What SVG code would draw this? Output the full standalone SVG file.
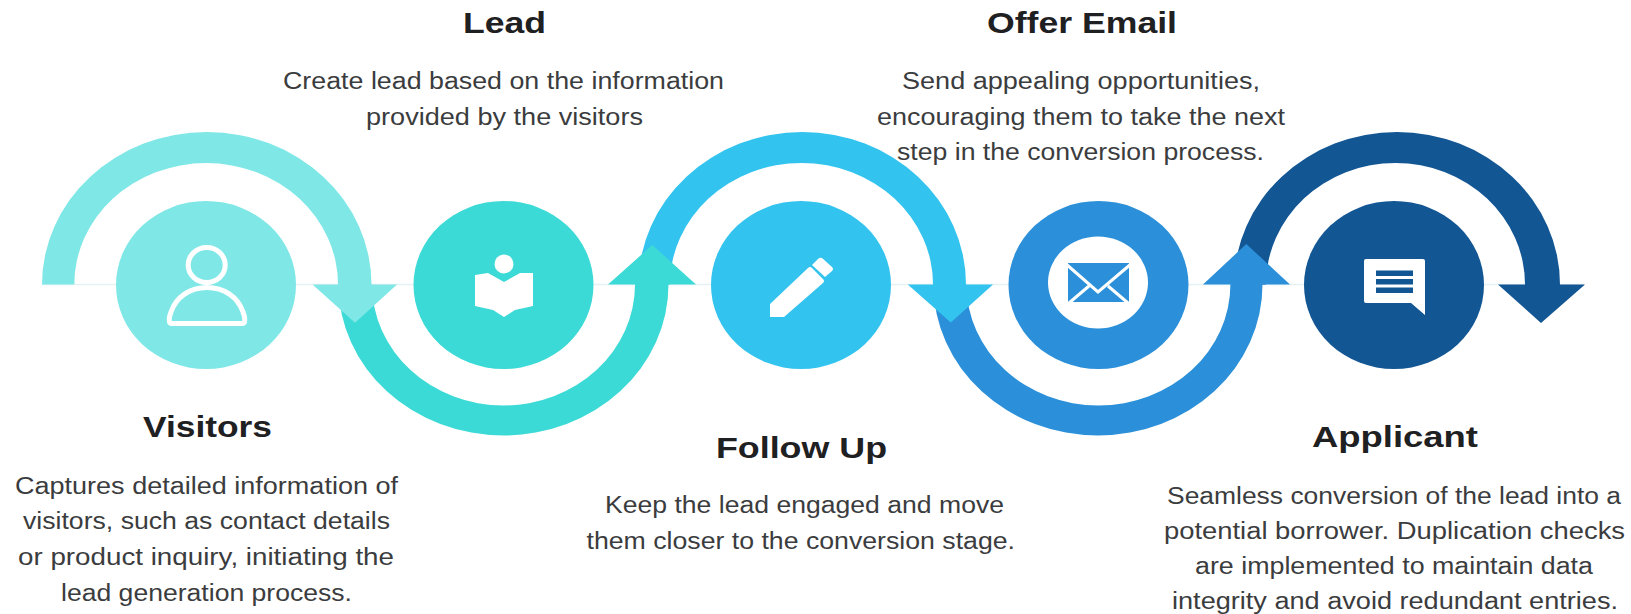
<svg xmlns="http://www.w3.org/2000/svg" width="1631" height="614" viewBox="0 0 1631 614">
<style>
.h{font-family:"Liberation Sans",Arial,sans-serif;font-weight:700;font-size:30px;fill:#1f2022}
.b{font-family:"Liberation Sans",Arial,sans-serif;font-size:23px;fill:#3b3c3e}
.w{fill:#fff}
.c1{fill:#80e7e7}.c2{fill:#3cdad6}.c3{fill:#33c3ef}.c4{fill:#2b90d9}.c5{fill:#135694}
</style>
<rect width="1631" height="614" fill="#fff"/>
<g id="connectors">
<path d="M42 284.500H1584" stroke="#e6f1f2" stroke-width="1.500" fill="none"/>
<path class="c5" d="M1234 284.500A163 152.500 0 0 1 1560 284.500H1585L1541 323L1498 284.500H1525A129.500 121.500 0 0 0 1266 284.500Z"/>
<path class="c4" d="M933.500 284.500A164.500 151 0 0 0 1262.500 284.500H1290L1246.300 244L1203 284.500H1230.400A132 121 0 0 1 966.400 284.500Z"/>
<path class="c3" d="M638.500 284.500A163.750 152.500 0 0 1 966 284.500H993L950.800 322.500L907.800 284.500H933A131.500 121.500 0 0 0 670 284.500Z"/>
<path class="c2" d="M338.500 284.500A165 151 0 0 0 668.500 284.500H696L652.300 245L608 284.500H635A131.500 121 0 0 1 372 284.500Z"/>
<path class="c1" d="M42 284.500A164.750 152.500 0 0 1 371.500 284.500H397L355 322.700L312.500 284.500H338A131.850 121.500 0 0 0 74.300 284.500Z"/>
</g>
<g id="visitors">
<ellipse class="c1" cx="206" cy="285" rx="90" ry="84"/>
<ellipse cx="206.700" cy="265" rx="18.500" ry="17.500" fill="none" stroke="#fff" stroke-width="5"/>
<path d="M172 323.500C168 323.500 169 317 171 312C176 297 190 287.500 207 287.500C224 287.500 238 297 243 312C245 317 246 323.500 242 323.500Z" fill="none" stroke="#fff" stroke-width="5" stroke-linejoin="round"/>
<text class="h" x="143" y="437" textLength="129" lengthAdjust="spacingAndGlyphs">Visitors</text>
<text class="b" x="15" y="493.500" textLength="383" lengthAdjust="spacingAndGlyphs">Captures detailed information of</text>
<text class="b" x="23" y="529" textLength="367" lengthAdjust="spacingAndGlyphs">visitors, such as contact details</text>
<text class="b" x="18" y="564.500" textLength="376" lengthAdjust="spacingAndGlyphs">or product inquiry, initiating the</text>
<text class="b" x="61" y="600.500" textLength="291" lengthAdjust="spacingAndGlyphs">lead generation process.</text>
</g>
<g id="lead">
<ellipse class="c2" cx="503.500" cy="285" rx="90" ry="84"/>
<circle class="w" cx="504" cy="264" r="9.500"/>
<path class="w" d="M475 275L488 273L504 282L520 273L533 273V306L515 310L504 317L493 310L475 306Z"/>
<text class="h" x="463" y="33" textLength="83" lengthAdjust="spacingAndGlyphs">Lead</text>
<text class="b" x="283" y="88.500" textLength="441" lengthAdjust="spacingAndGlyphs">Create lead based on the information</text>
<text class="b" x="366" y="125" textLength="277" lengthAdjust="spacingAndGlyphs">provided by the visitors</text>
</g>
<g id="follow-up">
<ellipse class="c3" cx="801" cy="285" rx="90" ry="84"/>
<path class="w" d="M770 304L808 268Q810 266 812 268L823 279Q825 281 823 283L784 317H770Z"/>
<path class="w" d="M812 265L818 259Q820 257 822 258L832 267Q834 269 832 271L825 277Z"/>
<text class="h" x="716" y="458" textLength="171" lengthAdjust="spacingAndGlyphs">Follow Up</text>
<text class="b" x="605" y="512.500" textLength="399" lengthAdjust="spacingAndGlyphs">Keep the lead engaged and move</text>
<text class="b" x="586.500" y="548.500" textLength="428.500" lengthAdjust="spacingAndGlyphs">them closer to the conversion stage.</text>
</g>
<g id="offer-email">
<ellipse class="c4" cx="1098.500" cy="285" rx="90" ry="84"/>
<ellipse class="w" cx="1098" cy="282.500" rx="50" ry="46"/>
<rect class="c4" x="1068" y="263" width="61" height="39"/>
<path d="M1066 264L1098 292L1131 264M1069 303L1089 286M1128 303L1108 286" fill="none" stroke="#fff" stroke-width="3"/>
<text class="h" x="987" y="33" textLength="190" lengthAdjust="spacingAndGlyphs">Offer Email</text>
<text class="b" x="902" y="88.500" textLength="358" lengthAdjust="spacingAndGlyphs">Send appealing opportunities,</text>
<text class="b" x="877" y="125" textLength="408" lengthAdjust="spacingAndGlyphs">encouraging them to take the next</text>
<text class="b" x="897" y="160" textLength="367" lengthAdjust="spacingAndGlyphs">step in the conversion process.</text>
</g>
<g id="applicant">
<ellipse class="c5" cx="1394" cy="285" rx="90" ry="84"/>
<path class="w" d="M1366 259H1423Q1425 259 1425 261V315L1411 303H1366Q1364 303 1364 301V261Q1364 259 1366 259Z"/>
<rect class="c5" x="1376" y="270.500" width="37" height="5.500"/>
<rect class="c5" x="1376" y="279" width="37" height="5.500"/>
<rect class="c5" x="1376" y="287.500" width="37" height="5.500"/>
<text class="h" x="1312" y="447" textLength="166" lengthAdjust="spacingAndGlyphs">Applicant</text>
<text class="b" x="1167" y="503.500" textLength="454" lengthAdjust="spacingAndGlyphs">Seamless conversion of the lead into a</text>
<text class="b" x="1164" y="539" textLength="461" lengthAdjust="spacingAndGlyphs">potential borrower. Duplication checks</text>
<text class="b" x="1195" y="574" textLength="398" lengthAdjust="spacingAndGlyphs">are implemented to maintain data</text>
<text class="b" x="1172" y="609" textLength="446" lengthAdjust="spacingAndGlyphs">integrity and avoid redundant entries.</text>
</g>
</svg>
